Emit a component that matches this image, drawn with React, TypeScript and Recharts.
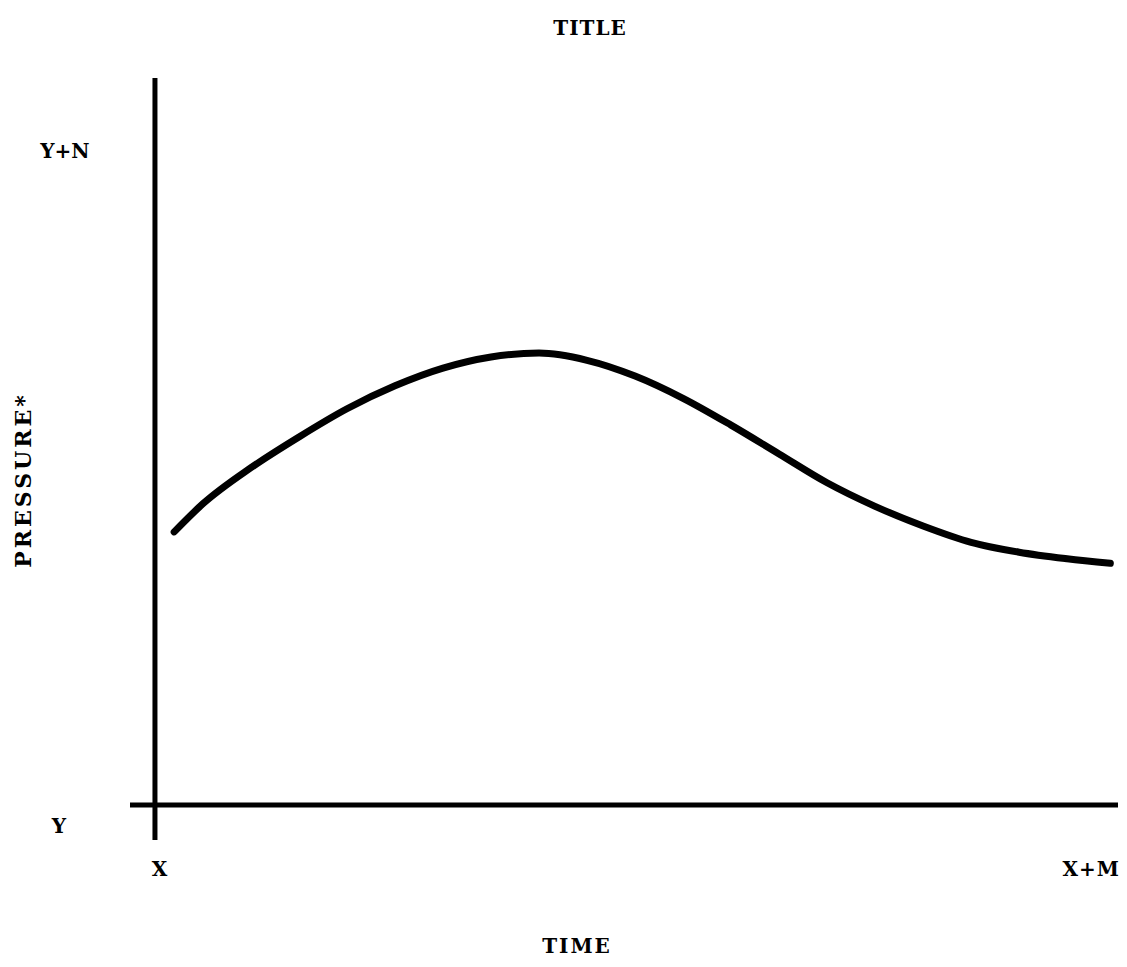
import React from "react";
import {
  LineChart,
  Line,
  XAxis,
  YAxis,
  ReferenceLine,
  Label,
} from "recharts";

// time (0..M scaled to 0..100) and pressure (0..N scaled to 0..100)
const TIME = [2, 5, 10, 15, 20, 25, 30, 35, 40, 45, 50, 55, 60, 65, 70, 75, 80, 85, 90, 95, 99.5];
const PRESSURE = [41.7, 46.0, 51.5, 56.2, 60.5, 64.0, 66.7, 68.4, 69.0, 67.9, 65.5, 62.1, 58.0, 53.6, 49.2, 45.6, 42.6, 40.1, 38.6, 37.6, 36.9];
const X_TICKS = [0, 100];
const Y_TICKS = [0, 100];
const X_TICK_LABELS: Record<number, string> = { 0: "X", 100: "X+M" };
const Y_TICK_LABELS: Record<number, string> = { 0: "Y", 100: "Y+N" };

const data = TIME.map((t, i) => ({ t, p: PRESSURE[i] }));

const FONT = "'DejaVu Serif', serif";
const textStyle = { fontFamily: FONT, fontWeight: 700, fontSize: 20, fill: "#000" };

function XTick(props: any) {
  const { x, payload } = props;
  const isEnd = payload.value === 100;
  return (
    <text
      x={x + 5}
      y={876}
      textAnchor={isEnd ? "end" : "middle"}
      style={{ ...textStyle, letterSpacing: 1 }}
    >
      {X_TICK_LABELS[payload.value]}
    </text>
  );
}

function YTick(props: any) {
  const { y, payload } = props;
  const isTop = payload.value === 100;
  return (
    <text
      x={isTop ? 65 : 59}
      y={isTop ? y + 8 : y + 28}
      textAnchor="middle"
      style={textStyle}
    >
      {Y_TICK_LABELS[payload.value]}
    </text>
  );
}

export default function App() {
  return (
    <div style={{ position: "absolute", left: 0, top: 0, width: 1127, height: 967, background: "#fff" }}>
      <div
        style={{
          position: "absolute",
          left: 0,
          width: 1180,
          top: 16,
          textAlign: "center",
          fontFamily: FONT,
          fontWeight: 700,
          fontSize: 20,
          letterSpacing: 1,
        }}
      >
        TITLE
      </div>
      <LineChart
        width={1127}
        height={967}
        data={data}
        margin={{ top: 78, right: 9, left: 0, bottom: 0 }}
      >
        <XAxis
          type="number"
          dataKey="t"
          domain={[-2.6, 100.3]}
          ticks={X_TICKS}
          axisLine={false}
          tickLine={false}
          height={127}
          tick={<XTick />}
          allowDataOverflow
        >
          <Label
            content={() => (
              <text x={577} y={953} textAnchor="middle" style={{ ...textStyle, letterSpacing: 2 }}>
                TIME
              </text>
            )}
          />
        </XAxis>
        <YAxis
          type="number"
          domain={[-5.34, 111]}
          ticks={Y_TICKS}
          axisLine={false}
          tickLine={false}
          width={130}
          tick={<YTick />}
          allowDataOverflow
        >
          <Label
            content={() => (
              <text
                x={31}
                y={480}
                textAnchor="middle"
                transform="rotate(-90, 31, 480)"
                style={{ ...textStyle, fontSize: 22, letterSpacing: 3 }}
              >
                PRESSURE*
              </text>
            )}
          />
        </YAxis>
        <ReferenceLine x={0} stroke="#000" strokeWidth={5} />
        <ReferenceLine y={0} stroke="#000" strokeWidth={5} />
        <Line
          type="monotone"
          dataKey="p"
          stroke="#000"
          strokeWidth={7}
          strokeLinecap="round"
          dot={false}
          isAnimationActive={false}
        />
      </LineChart>
    </div>
  );
}
